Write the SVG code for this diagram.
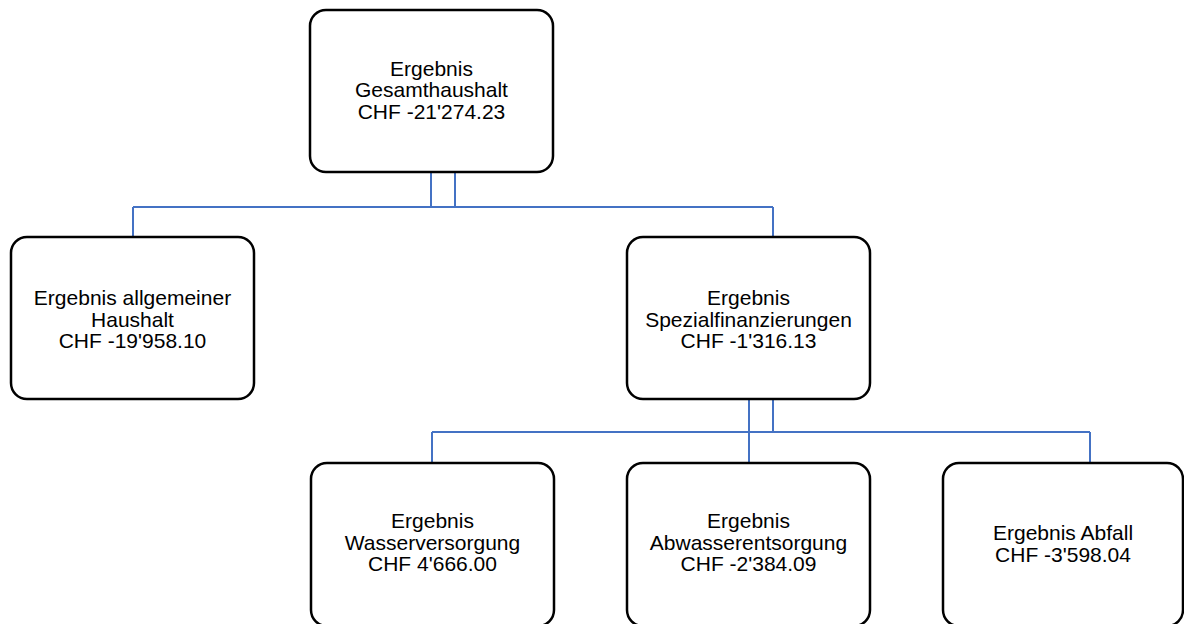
<svg xmlns="http://www.w3.org/2000/svg" width="1184" height="624" viewBox="0 0 1184 624">
<style>
.box{fill:#fff;stroke:#000;stroke-width:2.5}
.lbl{font-family:"Liberation Sans",Arial,sans-serif;font-size:21px;fill:#000;text-anchor:middle}
.con{fill:none;stroke:#4472C4;stroke-width:2}
</style>
<rect width="1184" height="624" fill="#fff"/>
<g id="connectors">
<path class="con" d="M431 172V207M455 172V207M133 207H773M133 207V237M773 207V237"/>
<path class="con" d="M749 398V463M773 398V432M432 432H1090M432 432V463M1090 432V463"/>
</g>
<g id="n_gesamt">
<rect class="box" x="310" y="10" width="243" height="162" rx="16"/>
<text class="lbl"><tspan x="431.5" y="75.5">Ergebnis</tspan><tspan x="431.5" y="97">Gesamthaushalt</tspan><tspan x="431.5" y="118.5">CHF -21'274.23</tspan></text>
</g>
<g id="n_allgemein">
<rect class="box" x="11" y="237" width="243" height="162" rx="16"/>
<text class="lbl"><tspan x="132.5" y="305">Ergebnis allgemeiner</tspan><tspan x="132.5" y="326.5">Haushalt</tspan><tspan x="132.5" y="348">CHF -19'958.10</tspan></text>
</g>
<g id="n_spezial">
<rect class="box" x="627" y="237" width="243" height="162" rx="16"/>
<text class="lbl"><tspan x="748.5" y="305">Ergebnis</tspan><tspan x="748.5" y="326.5">Spezialfinanzierungen</tspan><tspan x="748.5" y="348">CHF -1'316.13</tspan></text>
</g>
<g id="n_wasser">
<rect class="box" x="311" y="463" width="243" height="163" rx="16"/>
<text class="lbl"><tspan x="432.5" y="528">Ergebnis</tspan><tspan x="432.5" y="549.5">Wasserversorgung</tspan><tspan x="432.5" y="571">CHF 4'666.00</tspan></text>
</g>
<g id="n_abwasser">
<rect class="box" x="627" y="463" width="243" height="163" rx="16"/>
<text class="lbl"><tspan x="748.5" y="528">Ergebnis</tspan><tspan x="748.5" y="549.5">Abwasserentsorgung</tspan><tspan x="748.5" y="571">CHF -2'384.09</tspan></text>
</g>
<g id="n_abfall">
<rect class="box" x="943" y="463" width="240" height="163" rx="16"/>
<text class="lbl"><tspan x="1063" y="540">Ergebnis Abfall</tspan><tspan x="1063" y="561.5">CHF -3'598.04</tspan></text>
</g>
</svg>
